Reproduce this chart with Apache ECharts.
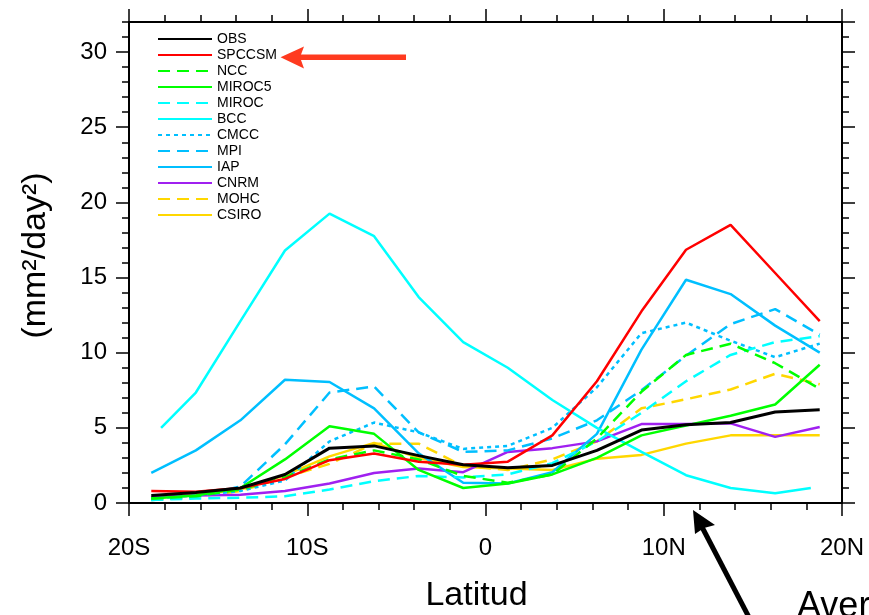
<!DOCTYPE html>
<html>
<head>
<meta charset="utf-8">
<script src="https://cdn.jsdelivr.net/npm/echarts@6/dist/echarts.min.js"></script>
<style>
  html, body { margin: 0; padding: 0; background: #ffffff; }
  #chart { width: 869px; height: 615px; }
</style>
</head>
<body>
<div id="chart"></div>
<script>
// latitudes (deg, negative = south)
var lats = [-18.75, -16.25, -13.75, -11.25, -8.75, -6.25, -3.75, -1.25, 1.25, 3.75, 6.25, 8.75, 11.25, 13.75, 16.25, 18.75]
// BCC sits on a slightly different grid at its ends
var bccLats = [-18.2, -16.25, -13.75, -11.25, -8.75, -6.25, -3.75, -1.25, 1.25, 3.75, 6.25, 8.75, 11.25, 13.75, 16.25, 18.25]

var obs = [0.5, 0.7, 1.0, 1.9, 3.65, 3.8, 3.15, 2.55, 2.35, 2.5, 3.5, 4.85, 5.2, 5.35, 6.05, 6.2]
var spccsm = [0.8, 0.75, 1.0, 1.6, 2.85, 3.3, 2.75, 2.55, 2.75, 4.5, 8.1, 12.75, 16.85, 18.5, 15.3, 12.1]
var ncc = [0.3, 0.45, 0.9, 1.7, 2.9, 3.5, 2.9, 1.8, 1.35, 1.9, 4.3, 7.4, 9.85, 10.6, 9.3, 7.6]
var miroc5 = [0.3, 0.5, 1.0, 2.9, 5.1, 4.6, 2.2, 1.0, 1.3, 1.9, 3.0, 4.5, 5.15, 5.8, 6.55, 9.2]
var miroc = [0.2, 0.3, 0.35, 0.45, 0.9, 1.45, 1.8, 1.7, 1.9, 2.65, 4.1, 6.0, 8.1, 9.85, 10.7, 11.1]
var bcc = [5.0, 7.35, 12.1, 16.8, 19.25, 17.75, 13.7, 10.7, 9.0, 6.85, 5.0, 3.4, 1.85, 1.0, 0.65, 1.0]
var cmcc = [0.3, 0.5, 0.8, 1.5, 4.1, 5.35, 4.7, 3.6, 3.8, 5.0, 7.7, 11.3, 12.0, 10.8, 9.7, 10.6]
var mpi = [0.2, 0.4, 1.1, 3.9, 7.35, 7.75, 4.7, 3.4, 3.5, 4.3, 5.5, 7.5, 9.8, 11.9, 12.9, 11.2]
var iap = [2.0, 3.5, 5.5, 8.2, 8.05, 6.3, 3.3, 1.35, 1.3, 2.05, 4.6, 10.2, 14.85, 13.9, 11.8, 10.0]
var cnrm = [0.4, 0.5, 0.55, 0.8, 1.3, 2.0, 2.3, 2.05, 3.4, 3.65, 4.1, 5.25, 5.25, 5.3, 4.4, 5.05]
var mohc = [0.2, 0.4, 0.8, 1.7, 2.6, 3.95, 3.95, 2.45, 2.2, 2.9, 4.1, 6.3, 6.9, 7.55, 8.6, 7.9]
var csiro = [0.35, 0.55, 0.9, 1.85, 3.1, 4.0, 3.0, 2.4, 2.3, 2.2, 2.95, 3.2, 3.95, 4.5, 4.5, 4.5]

var legendNames = ['OBS', 'SPCCSM', 'NCC', 'MIROC5', 'MIROC', 'BCC', 'CMCC', 'MPI', 'IAP', 'CNRM', 'MOHC', 'CSIRO']
var yTicks = [0, 5, 10, 15, 20, 25, 30]

var FONT = '"Liberation Sans", Arial, Helvetica, sans-serif'

function pairs (xs, ys) {
  return ys.map(function (v, i) { return [xs[i], v] })
}

function latLabel (v) {
  if (v < 0) return (-v) + 'S'
  if (v > 0) return v + 'N'
  return '0'
}

function line (name, xs, ys, color, type, width) {
  return {
    name: name,
    type: 'line',
    data: pairs(xs, ys),
    symbol: 'none',
    silent: true,
    lineStyle: { color: color, width: width || 2.5, type: type || 'solid' },
    itemStyle: { color: color }
  }
}

var dash = [12, 7]
var dot = [4, 4]

var myChart = echarts.init(document.getElementById('chart'), null, { renderer: 'canvas' })

var axisLine = { show: true, onZero: false, lineStyle: { color: '#000', width: 2 } }
var noLine = { show: false, onZero: false }
var majorTick = { show: true, length: 13, lineStyle: { color: '#000', width: 1.5 } }
var minorTickY = { show: true, length: 7, lineStyle: { color: '#000', width: 1.5 } }

var option = {
  animation: false,
  backgroundColor: '#ffffff',
  grid: {
    left: 129,
    right: 27,
    top: 22,
    bottom: 112,
    containLabel: false,
    outerBoundsMode: 'none'
  },
  legend: {
    data: legendNames,
    orient: 'vertical',
    left: 157,
    top: 32,
    padding: 0,
    itemWidth: 54,
    itemHeight: 14,
    itemGap: 2,
    selectedMode: false,
    itemStyle: { color: 'rgba(0,0,0,0)', borderColor: 'rgba(0,0,0,0)', borderWidth: 0, opacity: 0 },
    textStyle: { fontFamily: FONT, fontSize: 14, color: '#000', lineHeight: 14 }
  },
  xAxis: [
    {
      type: 'value',
      min: -20,
      max: 20,
      interval: 10,
      position: 'bottom',
      name: 'Latitud',
      nameLocation: 'middle',
      nameGap: 76,
      nameTextStyle: { fontFamily: FONT, fontSize: 34, color: '#000', padding: [0, 18, 0, 0] },
      axisLine: axisLine,
      axisTick: majorTick,
      minorTick: { show: true, splitNumber: 5, length: 7, lineStyle: { color: '#000', width: 1.5 } },
      axisLabel: { margin: 33, fontFamily: FONT, fontSize: 24, color: '#000', formatter: latLabel },
      splitLine: { show: false }
    },
    {
      type: 'value',
      min: -20,
      max: 20,
      interval: 10,
      position: 'top',
      axisLine: axisLine,
      axisTick: majorTick,
      minorTick: { show: true, splitNumber: 5, length: 7, lineStyle: { color: '#000', width: 1.5 } },
      axisLabel: { show: false },
      splitLine: { show: false }
    }
  ],
  yAxis: [
    {
      type: 'value',
      min: 0,
      max: 32,
      interval: 5,
      position: 'left',
      name: '(mm²/day²)',
      nameLocation: 'middle',
      nameGap: 76,
      nameRotate: 90,
      nameTextStyle: { fontFamily: FONT, fontSize: 34, color: '#000', padding: [0, 0, 0, 14] },
      axisLine: axisLine,
      axisTick: majorTick,
      axisLabel: {
        margin: 22,
        fontFamily: FONT,
        fontSize: 24,
        color: '#000',
        showMaxLabel: false,
        formatter: function (v) { return yTicks.indexOf(v) >= 0 ? String(v) : '' }
      },
      splitLine: { show: false }
    },
    {
      type: 'value',
      min: 0,
      max: 32,
      interval: 1,
      position: 'left',
      axisLine: noLine,
      axisTick: minorTickY,
      axisLabel: { show: false },
      splitLine: { show: false }
    },
    {
      type: 'value',
      min: 0,
      max: 32,
      interval: 5,
      position: 'right',
      axisLine: axisLine,
      axisTick: majorTick,
      axisLabel: { show: false },
      splitLine: { show: false }
    },
    {
      type: 'value',
      min: 0,
      max: 32,
      interval: 1,
      position: 'right',
      axisLine: noLine,
      axisTick: minorTickY,
      axisLabel: { show: false },
      splitLine: { show: false }
    }
  ],
  series: [
    line('CSIRO', lats, csiro, '#ffd700'),
    line('MOHC', lats, mohc, '#ffd700', dash),
    line('CNRM', lats, cnrm, '#a020f0'),
    line('IAP', lats, iap, '#00bfff'),
    line('MPI', lats, mpi, '#00bfff', dash),
    line('CMCC', lats, cmcc, '#00bfff', dot),
    line('BCC', bccLats, bcc, '#00ffff'),
    line('MIROC', lats, miroc, '#00ffff', dash),
    line('MIROC5', lats, miroc5, '#00ff00'),
    line('NCC', lats, ncc, '#00ff00', dash),
    line('SPCCSM', lats, spccsm, '#ff0000'),
    line('OBS', lats, obs, '#000000', 'solid', 3)
  ],
  graphic: [
    // red arrow pointing at SPCCSM
    {
      type: 'rect',
      shape: { x: 300, y: 54.5, width: 106, height: 5.5 },
      style: { fill: '#ff3a1f' }
    },
    {
      type: 'polygon',
      shape: { points: [[280.5, 57.3], [304, 46.5], [300, 57.3], [304, 68.5]] },
      style: { fill: '#ff3a1f' }
    },
    // black arrow at the bottom
    {
      type: 'line',
      shape: { x1: 702, y1: 527, x2: 753, y2: 625 },
      style: { stroke: '#000', lineWidth: 5 }
    },
    {
      type: 'polygon',
      shape: { points: [[693, 510], [715, 525], [704, 528], [695, 534]] },
      style: { fill: '#000' }
    },
    {
      type: 'text',
      x: 797,
      y: 589,
      style: { text: 'Average', font: '36px ' + FONT, fill: '#000', verticalAlign: 'top' }
    }
  ]
}

myChart.setOption(option)
window.onresize = function () {
  myChart.resize()
}
</script>
</body>
</html>
